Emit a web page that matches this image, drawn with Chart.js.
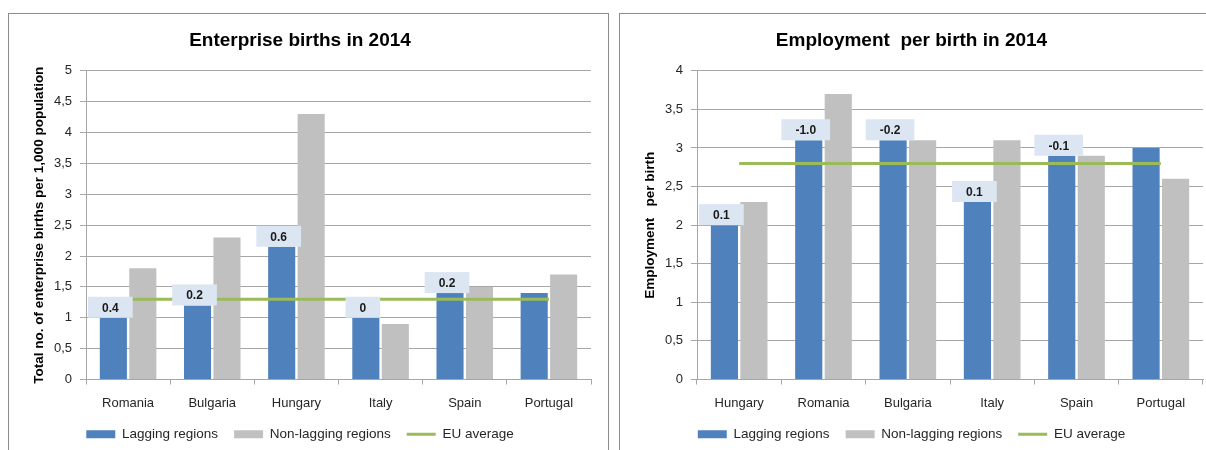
<!DOCTYPE html>
<html>
<head>
<meta charset="utf-8">
<script src="https://cdn.jsdelivr.net/npm/chart.js@4/dist/chart.umd.min.js"></script>
<style>
body { margin: 0; background: #fff; overflow: hidden; width: 1206px; height: 450px; position: relative; }
.box { position: absolute; border: 1px solid #8c8c8c; background: #fff; }
#b1 { left: 8px; top: 13px; width: 599px; height: 460px; }
#b2 { left: 619px; top: 13px; width: 620px; height: 460px; }
canvas { display: block; }
</style>
</head>
<body>
<div class="box" id="b1"><canvas id="births" width="599" height="437"></canvas></div>
<div class="box" id="b2"><canvas id="employment" width="600" height="437"></canvas></div>
<script>
// left chart: enterprise births per 1,000 population
const birthCountries = ['Romania', 'Bulgaria', 'Hungary', 'Italy', 'Spain', 'Portugal'];
const birthLagging = [1.0, 1.2, 2.15, 1.0, 1.4, 1.4];
const birthNonLagging = [1.8, 2.3, 4.3, 0.9, 1.5, 1.7];
const birthEuAvg = [1.3, 1.3, 1.3, 1.3, 1.3, 1.3];
const birthGapLabels = ['0.4', '0.2', '0.6', '0', '0.2', ''];
const birthTicks = ['0', '0,5', '1', '1,5', '2', '2,5', '3', '3,5', '4', '4,5', '5'];

// right chart: employment per birth
const empCountries = ['Hungary', 'Romania', 'Bulgaria', 'Italy', 'Spain', 'Portugal'];
const empLagging = [2.0, 3.1, 3.1, 2.3, 2.9, 3.0];
const empNonLagging = [2.3, 3.7, 3.1, 3.1, 2.9, 2.6];
const empEuAvg = [2.8, 2.8, 2.8, 2.8, 2.8, 2.8];
const empGapLabels = ['0.1', '-1.0', '-0.2', '0.1', '-0.1', ''];
const empTicks = ['0', '0,5', '1', '1,5', '2', '2,5', '3', '3,5', '4'];

const FONT = '"Liberation Sans", Arial, sans-serif';
const textCol = '#262626';
const gridCol = '#a6a6a6';

Chart.defaults.font.family = FONT;
Chart.defaults.color = textCol;

// light blue boxes with the gap value, sitting on top of the lagging bars
const gapBoxes = {
    id: 'gapBoxes',
    afterDatasetsDraw(chart, args, opts) {
        const labels = opts.labels || [];
        const ctx = chart.ctx;
        const meta = chart.getDatasetMeta(0);
        ctx.save();
        ctx.font = 'bold 12px ' + FONT;
        ctx.textAlign = 'center';
        ctx.textBaseline = 'middle';
        meta.data.forEach((bar, i) => {
            const txt = labels[i];
            if (!txt) return;
            const w = ctx.measureText(txt).width + 28;
            const h = 21;
            const cx = bar.x - 3;
            ctx.fillStyle = '#dce6f2';
            ctx.fillRect(cx - w / 2, bar.y - h, w, h);
            ctx.fillStyle = '#1a1a1a';
            ctx.fillText(txt, cx, bar.y - h / 2 + 1);
        });
        ctx.restore();
    }
};

function makeChart(id, title, yTitle, countries, lagging, nonLagging, euAvg, gapLabels, ticks, yMax) {
    return new Chart(document.getElementById(id), {
        type: 'bar',
        data: {
            labels: countries,
            datasets: [
                {
                    label: 'Lagging regions',
                    data: lagging,
                    backgroundColor: '#4f81bd',
                    borderWidth: 0,
                    pointStyle: 'rect',
                    categoryPercentage: 0.7,
                    barPercentage: 0.92,
                },
                {
                    label: 'Non-lagging regions',
                    data: nonLagging,
                    backgroundColor: '#c0c0c0',
                    borderWidth: 0,
                    pointStyle: 'rect',
                    categoryPercentage: 0.7,
                    barPercentage: 0.92,
                },
                {
                    type: 'line',
                    label: 'EU average',
                    data: euAvg,
                    borderColor: '#9bbb59',
                    backgroundColor: '#9bbb59',
                    borderWidth: 3,
                    pointRadius: 0,
                    pointStyle: 'line',
                    order: -1,
                },
            ],
        },
        options: {
            responsive: false,
            animation: false,
            layout: { padding: { left: 0, right: 17, top: 0, bottom: 0 } },
            plugins: {
                title: {
                    display: true,
                    text: title,
                    color: '#000',
                    font: { size: 19, weight: 'bold' },
                    padding: { top: 15, bottom: 19 },
                },
                legend: {
                    position: 'bottom',
                    labels: {
                        usePointStyle: true,
                        pointStyleWidth: 29,
                        boxHeight: 8,
                        padding: 16,
                        color: textCol,
                        font: { size: 13.5 },
                        sort: (a, b) => a.datasetIndex - b.datasetIndex,
                    },
                },
                tooltip: { enabled: false },
                gapBoxes: { labels: gapLabels },
            },
            scales: {
                x: {
                    grid: { offset: true, drawOnChartArea: false, tickLength: 5, color: gridCol },
                    border: { color: gridCol },
                    ticks: { color: textCol, font: { size: 13 }, padding: 11 },
                    afterFit(s) { s.height = 32; },
                },
                y: {
                    min: 0,
                    max: yMax,
                    grid: { color: gridCol, tickLength: 6 },
                    border: { color: gridCol },
                    ticks: {
                        stepSize: 0.5,
                        padding: 8,
                        color: textCol,
                        font: { size: 13 },
                        callback: (v) => ticks[Math.round(v / 0.5)],
                    },
                    title: {
                        display: true,
                        text: yTitle,
                        color: '#000',
                        font: { size: 13.5, weight: 'bold' },
                        padding: { top: 22, bottom: 0 },
                    },
                    afterFit(s) { s.width = 77; },
                },
            },
        },
        plugins: [gapBoxes],
    });
}

makeChart('births', 'Enterprise births in 2014', 'Total no. of enterprise births per 1,000 population',
    birthCountries, birthLagging, birthNonLagging, birthEuAvg, birthGapLabels, birthTicks, 5);
makeChart('employment', 'Employment  per birth in 2014', 'Employment   per birth',
    empCountries, empLagging, empNonLagging, empEuAvg, empGapLabels, empTicks, 4);
</script>
</body>
</html>
